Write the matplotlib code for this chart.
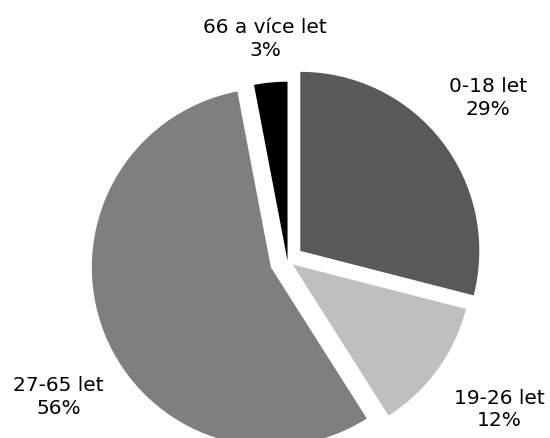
import matplotlib
matplotlib.use('Agg')
import matplotlib.pyplot as plt

# age groups and shares (%)
labels = ['0-18 let', '19-26 let', '27-65 let', '66 a více let']
shares = [29, 12, 56, 3]
colors = ['#595959', '#bfbfbf', '#7f7f7f', '#000000']
explode = [0.09, 0.035, 0.1, 0.0]

# label positions (data units, pie radius = 1)
label_pos = [(1.120, 0.915), (1.184, -0.825), (-1.279, -0.754), (-0.126, 1.244)]

fig = plt.figure(figsize=(5.5, 4.39), dpi=100)
ax = fig.add_axes([0, 0, 1, 1])
ax.pie(shares, colors=colors, explode=explode, startangle=90,
       counterclock=False, radius=1.0, wedgeprops=dict(linewidth=0))

for lab, val, (x, y) in zip(labels, shares, label_pos):
    ax.text(x, y, '%s\n%d%%' % (lab, val), ha='center', va='center',
            fontsize=14.5, linespacing=1.25, family='DejaVu Sans')

ax.set_xlim(-1.606, 1.466)
ax.set_ylim(-0.990, 1.462)
ax.set_aspect('auto')
ax.axis('off')

fig.savefig('out.png', dpi=100)
